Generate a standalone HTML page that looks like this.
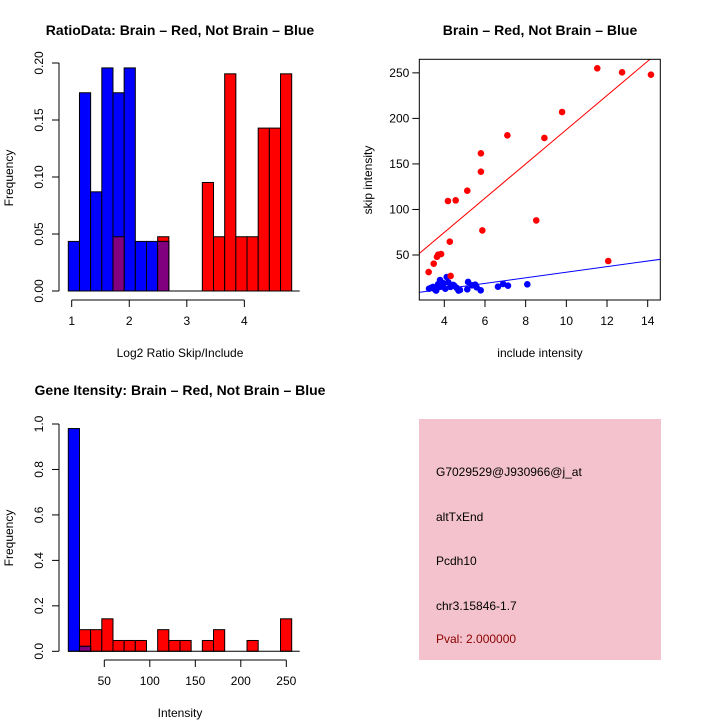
<!DOCTYPE html>
<html><head><meta charset="utf-8"><style>
html,body{margin:0;padding:0;background:#fff;}
svg{display:block;font-family:"Liberation Sans",sans-serif;}
</style></head><body>
<svg id="c" width="720" height="720" viewBox="0 0 720 720" xmlns="http://www.w3.org/2000/svg">
<text x="180" y="35" font-size="14" font-weight="bold" text-anchor="middle">RatioData: Brain – Red, Not Brain – Blue</text>
<text x="540" y="35" font-size="14" font-weight="bold" text-anchor="middle">Brain – Red, Not Brain – Blue</text>
<text x="180" y="395" font-size="14" font-weight="bold" text-anchor="middle">Gene Itensity: Brain – Red, Not Brain – Blue</text>
<text x="180" y="357" font-size="12" text-anchor="middle">Log2 Ratio Skip/Include</text>
<text transform="translate(13,178) rotate(-90)" font-size="12" text-anchor="middle">Frequency</text>
<text x="540" y="357" font-size="12" text-anchor="middle">include intensity</text>
<text transform="translate(372,180) rotate(-90)" font-size="12" text-anchor="middle">skip intensity</text>
<text x="180" y="717" font-size="12" text-anchor="middle">Intensity</text>
<text transform="translate(13,538) rotate(-90)" font-size="12" text-anchor="middle">Frequency</text>
<g id="h1"></g>
<g id="sc"></g>
<g id="h2"></g>
<g>
<rect x="419" y="419" width="242" height="241" fill="#f3c2cc"/>
<g font-size="12">
<text x="436" y="476">G7029529@J930966@j_at</text>
<text x="436" y="521">altTxEnd</text>
<text x="436" y="565">Pcdh10</text>
<text x="436" y="610">chr3.15846-1.7</text>
<text x="436" y="643" fill="#8b0000">Pval: 2.000000</text>
</g></g>
</svg>
<script>
const ratioBlue=[0.0435,0.1739,0.087,0.1957,0.1739,0.1957,0.0435,0.0435,0.0435,0,0,0,0,0,0,0,0,0,0,0];
const ratioRed=[0,0,0,0,0.0476,0,0,0,0.0476,0,0,0,0.0952,0.0476,0.1905,0.0476,0.0476,0.1429,0.1429,0.1905];
const ratioXTicks=[1,2,3,4];
const ratioYTicks=["0.00","0.05","0.10","0.15","0.20"];
const intBlue=[0.98,0.022,0,0,0,0,0,0,0,0,0,0,0,0,0,0,0,0,0,0];
const intRed=[0,0.0952,0.0952,0.1429,0.0476,0.0476,0.0476,0,0.0952,0.0476,0.0476,0,0.0476,0.0952,0,0,0.0476,0,0,0.1429];
const intXTicks=[50,100,150,200,250];
const intYTicks=["0.0","0.2","0.4","0.6","0.8","1.0"];
const redX=[11.52,12.74,14.16,9.79,7.10,8.92,5.80,5.80,5.13,4.18,4.56,8.52,5.87,4.27,3.70,3.84,3.64,3.48,3.23,12.06,4.31];
const redY=[255,250.6,248,207,181.4,178.5,161.7,141.5,120.6,109.3,110,88,77,64.6,50.3,51,48,40.5,31.3,43.4,27];
const blueX=[8.08,7.13,6.89,6.64,5.79,5.59,5.52,5.36,5.17,5.13,4.77,4.61,4.44,4.12,3.79,3.74,3.45,3.25,3.9,3.6,4.3,3.95,4.7,4.05,3.35,3.55,4.2,3.85,4.5,3.7];
const blueY=[17.8,16.3,18.2,15.2,11.2,14.5,17.4,16.7,20.4,12.3,11.6,13.8,17.1,25.8,22.5,15,15,13,17,11,15,19,11,13,14,12,20,16,16,18];
const scXTicks=[4,6,8,10,12,14];
const scYTicks=[50,100,150,200,250];
const redFit=[-0.4,18.8];
const blueFit=[0.5,3.06];

const NS="http://www.w3.org/2000/svg";
function mk(p,t,a){const e=document.createElementNS(NS,t);for(const k in a)e.setAttribute(k,a[k]);p.appendChild(e);return e;}

function hist(g,blue,red,x0,bw,y0,ys,xTicks,xs,xo,yTicks,ystep,axX,axY){
  for(let i=0;i<red.length;i++){if(red[i]>0){const r=mk(g,'rect',{x:x0+i*bw,y:y0-red[i]*ys,width:bw,height:red[i]*ys,fill:'#ff0000',stroke:'#000','stroke-width':1});

}}
  for(let i=0;i<blue.length;i++){if(blue[i]>0){const r=mk(g,'rect',{x:x0+i*bw,y:y0-blue[i]*ys,width:bw,height:blue[i]*ys,fill:'#0000ff',stroke:'#000','stroke-width':1});

}}
  for(let i=0;i<blue.length;i++){const m=Math.min(blue[i],red[i]);if(m>0){const r=mk(g,'rect',{x:x0+i*bw,y:y0-m*ys,width:bw,height:m*ys,fill:'#800080',stroke:'#000','stroke-width':1});

}}
  mk(g,'line',{x1:x0,x2:x0+bw*blue.length+8,y1:y0,y2:y0,stroke:'#000'});
  const xa=xTicks.map(xo);
  mk(g,'line',{x1:xa[0],x2:xa[xa.length-1],y1:axY,y2:axY,stroke:'#000'});
  xTicks.forEach((t,i)=>{mk(g,'line',{x1:xa[i],x2:xa[i],y1:axY,y2:axY+7,stroke:'#000'});const tx=mk(g,'text',{x:xa[i],y:axY+25,'font-size':12,'text-anchor':'middle'});tx.textContent=t;

});
  const top=y0-(yTicks.length-1)*ystep;
  mk(g,'line',{x1:axX,x2:axX,y1:y0,y2:top,stroke:'#000'});
  yTicks.forEach((t,i)=>{const y=y0-i*ystep;mk(g,'line',{x1:axX-7,x2:axX,y1:y,y2:y,stroke:'#000'});const tx=mk(g,'text',{transform:`translate(${axX-16},${y}) rotate(-90)`,'font-size':12,'text-anchor':'middle'});tx.textContent=t;

});
}
hist(document.getElementById('h1'),ratioBlue,ratioRed,68.3,11.17,291,1140,ratioXTicks,null,v=>71.7+(v-1)*57.55,ratioYTicks,(291-63)/4,59,300);
hist(document.getElementById('h2'),intBlue,intRed,68.3,11.17,651.3,227.3,intXTicks,null,v=>104.3+(v-50)*0.91,intYTicks,227.3/5,59,660);

(function(){
  const g=document.getElementById('sc');
  const X=v=>444.3+(v-4)*20.34, Y=v=>255-(v-50)*0.9107;
  const L=419.3,R=660.3,T=59.3,B=300;
  mk(g,'defs',{}).innerHTML='<clipPath id="cp"><rect x="419.3" y="59.3" width="241" height="240.7"/></clipPath>';
  const xl=2.7,xr=14.8;
  [[redFit,'#ff0000'],[blueFit,'#0000ff']].forEach(([f,c])=>{const l=mk(g,'line',{x1:X(xl),y1:Y(f[0]+f[1]*xl),x2:X(xr),y2:Y(f[0]+f[1]*xr),stroke:c,'stroke-width':1,'clip-path':'url(#cp)'});

});
  blueX.forEach((x,i)=>{const c=mk(g,'circle',{cx:X(x),cy:Y(blueY[i]),r:3.3,fill:'#0000ff'});

});
  redX.forEach((x,i)=>{const c=mk(g,'circle',{cx:X(x),cy:Y(redY[i]),r:3.3,fill:'#ff0000'});

});
  mk(g,'rect',{x:L,y:T,width:R-L,height:B-T,fill:'none',stroke:'#000'});
  scXTicks.forEach(t=>{const x=X(t);mk(g,'line',{x1:x,x2:x,y1:B,y2:B+7,stroke:'#000'});const tx=mk(g,'text',{x:x,y:B+25,'font-size':12,'text-anchor':'middle'});tx.textContent=t;

});
  scYTicks.forEach(t=>{const y=Y(t);mk(g,'line',{x1:L-7,x2:L,y1:y,y2:y,stroke:'#000'});const tx=mk(g,'text',{x:L-10,y:y+4,'font-size':12,'text-anchor':'end'});tx.textContent=t;

});
})();
</script>
</body></html>
